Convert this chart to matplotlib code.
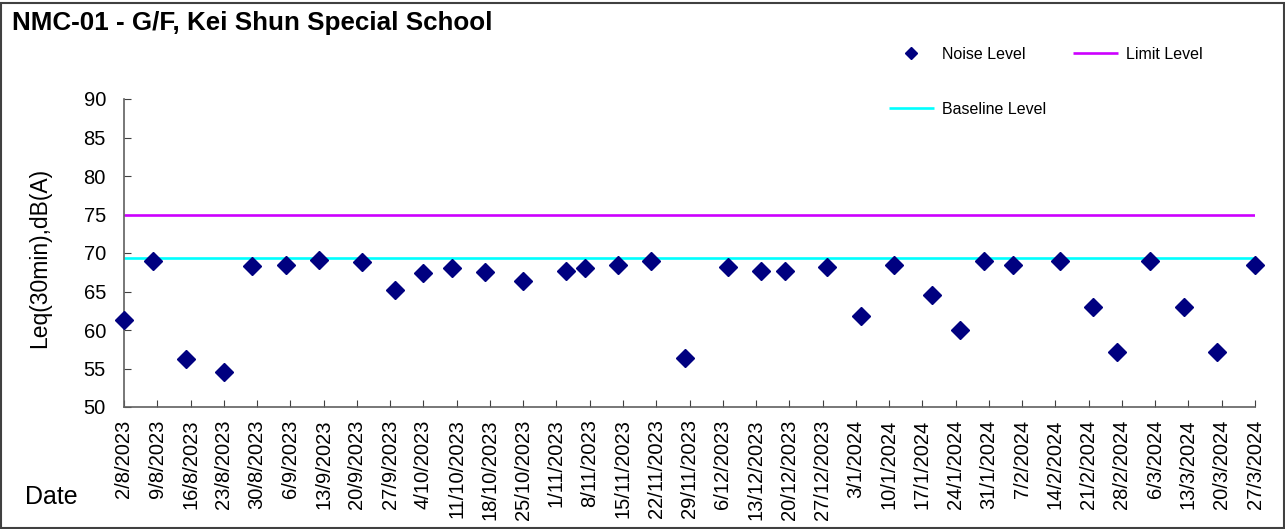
import datetime as dt
import matplotlib
matplotlib.use("Agg")
import matplotlib.pyplot as plt
from matplotlib.patches import Rectangle

plt.rcParams['font.family'] = ['Liberation Sans', 'DejaVu Sans']

title = "NMC-01 - G/F, Kei Shun Special School"
ylabel = "Leq(30min),dB(A)"
xlabel = "Date"

dates = ["2023-08-02", "2023-08-08", "2023-08-15", "2023-08-23", "2023-08-29",
         "2023-09-05", "2023-09-12", "2023-09-21", "2023-09-28", "2023-10-04",
         "2023-10-10", "2023-10-17", "2023-10-25", "2023-11-03", "2023-11-07",
         "2023-11-14", "2023-11-21", "2023-11-28", "2023-12-07", "2023-12-14",
         "2023-12-19", "2023-12-28", "2024-01-04", "2024-01-11", "2024-01-19",
         "2024-01-25", "2024-01-30", "2024-02-05", "2024-02-15", "2024-02-22",
         "2024-02-27", "2024-03-05", "2024-03-12", "2024-03-19", "2024-03-27"]
noise = [61.3, 69.0, 56.2, 54.5, 68.3,
         68.4, 69.1, 68.8, 65.2, 67.4,
         68.1, 67.5, 66.4, 67.7, 68.1,
         68.5, 69.0, 56.3, 68.2, 67.7,
         67.6, 68.2, 61.8, 68.5, 64.6,
         60.0, 68.9, 68.5, 68.9, 63.0,
         57.2, 68.9, 63.0, 57.2, 68.4]
limit_level = 75.0
baseline_level = 69.3
x_start = "2023-08-02"
x_end = "2024-03-27"
tick_step_days = 7
yticks = [50, 55, 60, 65, 70, 75, 80, 85, 90]

to_dt = lambda s: dt.datetime.strptime(s, "%Y-%m-%d")
xd = [to_dt(d) for d in dates]
x0, x1 = to_dt(x_start), to_dt(x_end)
ticks = []
t = x0
while t <= x1:
    ticks.append(t)
    t += dt.timedelta(days=tick_step_days)

W, H = 1285, 529
fig = plt.figure(figsize=(W / 100, H / 100), dpi=100)
ax = fig.add_axes([124 / W, 1 - 407 / H, (1255 - 124) / W, (407 - 99) / H])

hn, = ax.plot(xd, noise, linestyle='none', marker='D', markersize=9.5,
              color='#000080', label='Noise Level')
hl, = ax.plot([x0, x1], [limit_level, limit_level], color='#CC00FF', lw=1.9,
              label='Limit Level', solid_capstyle='butt')
hb, = ax.plot([x0, x1], [baseline_level, baseline_level], color='#00FFFF', lw=1.9,
              label='Baseline Level', solid_capstyle='butt')
hn.set_zorder(5)
hn.set_clip_on(False)

ax.set_xlim(x0, x1)
ax.set_ylim(50, 90)
ax.set_yticks(yticks)
ax.set_xticks(ticks)
ax.set_xticklabels([f"{d.day}/{d.month}/{d.year}" for d in ticks], rotation=90,
                   fontsize=14.5)
ax.tick_params(axis='y', labelsize=14.5, direction='in', length=5, pad=13,
               color='#404040')
ax.tick_params(axis='x', direction='in', length=5, pad=9, color='#404040')
for s in ('top', 'right'):
    ax.spines[s].set_visible(False)
for s in ('left', 'bottom'):
    ax.spines[s].set_color('#606060')
    ax.spines[s].set_linewidth(1.2)

fig.text(40 / W, 1 - 258 / H, ylabel, rotation=90, fontsize=16.5,
         ha='center', va='center')
fig.text(25 / W, 1 - 497 / H, xlabel, fontsize=18, ha='left', va='center')
fig.text(12 / W, 1 - 23 / H, title, fontsize=18.7, fontweight='bold',
         ha='left', va='center')

fig.legend(handles=[hn, hb, hl], ncol=2, frameon=False, fontsize=11.5,
           loc='upper left', bbox_to_anchor=(889 / W, 1 - 47 / H),
           borderpad=0, borderaxespad=0, handlelength=2.8, handletextpad=0.5,
           columnspacing=1.7, labelspacing=2.5, markerscale=0.6)

fig.patches.append(Rectangle((1 / W, 1 / H), 1 - 2 / W, 1 - 3.5 / H,
                             transform=fig.transFigure, fill=False,
                             edgecolor='#404040', lw=1.5))

fig.savefig("out.png", dpi=100)
